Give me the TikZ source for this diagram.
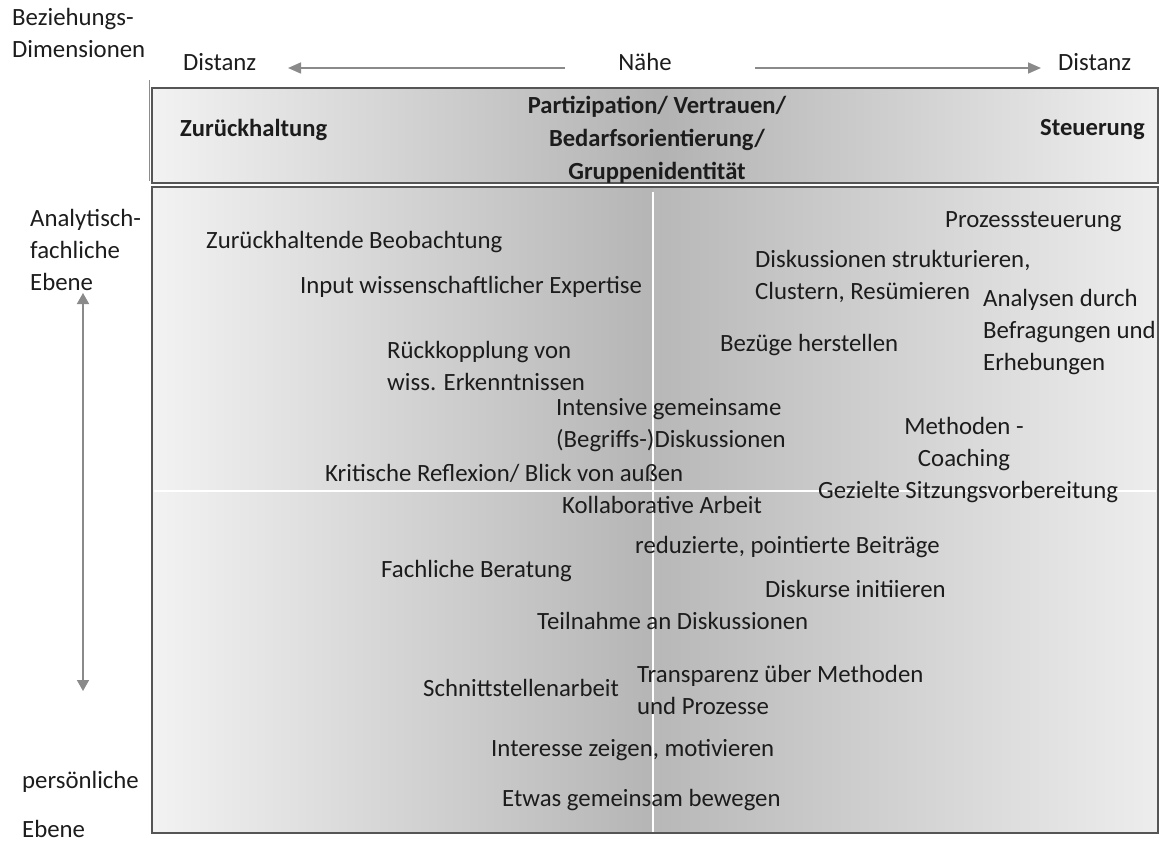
\documentclass[tikz,border=0pt]{standalone}
\usepackage{fontspec}
\setmainfont{Carlito}
\usetikzlibrary{arrows.meta}
\definecolor{txt}{HTML}{1C1C1C}
\definecolor{frame}{HTML}{555555}
\definecolor{arr}{HTML}{8A8A8A}
\begin{document}
\begin{tikzpicture}[x=1pt,y=-1pt,
  lbl/.style={anchor=west,inner sep=0pt,font=\fontsize{24.8}{32}\selectfont,text=txt,align=left},
  clbl/.style={anchor=center,inner sep=0pt,font=\fontsize{24.8}{32}\selectfont,text=txt,align=center},
  hdr/.style={inner sep=0pt,font=\fontsize{24.6}{33}\selectfont\bfseries,text=txt,align=center},
  axisarrow/.style={draw=arr,line width=1.6pt,-{Triangle[length=13pt,width=11pt]}},
  dblarrow/.style={draw=arr,line width=1.6pt,{Triangle[length=11pt,width=12pt]}-{Triangle[length=11pt,width=12pt]}},
  boxframe/.style={draw=frame,line width=2.5pt}]
\useasboundingbox (0,0) rectangle (1160,843);
% header box shading
\shade[left color=black!5,right color=black!30] (152,88) rectangle (660,183);
\shade[left color=black!30,right color=black!6] (660,88) rectangle (1158,183);
\draw[boxframe] (152,88) rectangle (1158,183);
\draw[black!45,line width=0.8pt] (149,80) -- (149,181);
% main box shading
\shade[left color=black!5,right color=black!29] (152,187) rectangle (653,833);
\shade[left color=black!28,right color=black!7] (653,187) rectangle (1158,833);
\draw[white,line width=1.6pt] (653,192) -- (653,833);
\draw[white,line width=1.4pt] (154,491) -- (1156,491);
\draw[boxframe] (152,187) rectangle (1158,833);

% top labels
\node[lbl] (bez) at (12,33) {Beziehungs-\\Dimensionen};
\node[lbl] (dl) at (183,62) {Distanz};
\node[clbl] (nahe) at (645,62) {Nähe};
\node[lbl] (dr) at (1058,62) {Distanz};
\coordinate (la1) at (565,68);
\coordinate (la2) at (288,68);
\coordinate (ra1) at (755,68);
\coordinate (ra2) at (1041,68);
\draw[axisarrow] (la1) -- (la2);
\draw[axisarrow] (ra1) -- (ra2);

% header texts
\node[hdr,anchor=west] (zur) at (180,130) {Zurückhaltung};
\node[hdr,anchor=center] (part) at (657,140) {Partizipation/ Vertrauen/\\Bedarfsorientierung/\\Gruppenidentität};
\node[hdr,anchor=east] (steu) at (1145,130) {Steuerung};

% left labels
\node[lbl] (ana) at (30,250) {Analytisch-\\fachliche\\Ebene};
\node[lbl] (pers) at (22,782) {persönliche};
\node[lbl] (eb2) at (22,829) {Ebene};
\coordinate (va1) at (83,293);
\coordinate (va2) at (83,691);
\draw[dblarrow] (va1) -- (va2);

% content
\node[lbl] (t1) at (945,222) {Prozesssteuerung};
\node[lbl] (t2) at (206,242) {Zurückhaltende Beobachtung};
\node[lbl] (t3) at (755,276) {Diskussionen strukturieren,\\Clustern, Resümieren};
\node[lbl] (t4) at (983,332) {Analysen durch\\Befragungen und\\Erhebungen};
\node[lbl] (t5) at (300,287) {Input wissenschaftlicher Expertise};
\node[lbl] (t6) at (387,366) {Rückkopplung von\\wiss. Erkenntnissen};
\node[lbl] (t7) at (720,345) {Bezüge herstellen};
\node[lbl] (t8) at (556,425) {Intensive gemeinsame\\(Begriffs-)Diskussionen};
\node[clbl] (t9) at (964,444) {Methoden -\\Coaching};
\node[lbl] (t10) at (325,473) {Kritische Reflexion/ Blick von außen};
\node[lbl] (t11) at (562,505) {Kollaborative Arbeit};
\node[lbl] (t12) at (818,492) {Gezielte Sitzungsvorbereitung};
\node[lbl] (t13) at (635,547) {reduzierte, pointierte Beiträge};
\node[lbl] (t14) at (381,571) {Fachliche Beratung};
\node[lbl] (t15) at (765,589) {Diskurse initiieren};
\node[lbl] (t16) at (537,621) {Teilnahme an Diskussionen};
\node[lbl] (t17) at (423,688) {Schnittstellenarbeit};
\node[lbl] (t18) at (637,690) {Transparenz über Methoden\\und Prozesse};
\node[lbl] (t19) at (491,750) {Interesse zeigen, motivieren};
\node[lbl] (t20) at (502,800) {Etwas gemeinsam bewegen};
\end{tikzpicture}
\end{document}
